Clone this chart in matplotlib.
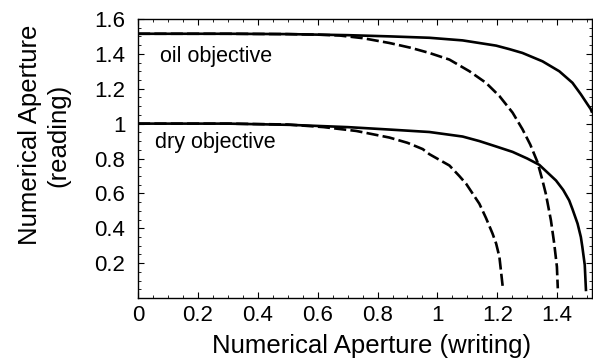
import matplotlib
matplotlib.use("Agg")
import matplotlib.pyplot as plt
from matplotlib.ticker import MultipleLocator, FuncFormatter

plt.rcParams["font.family"] = ["Liberation Sans", "DejaVu Sans"]

# values
oil_solid_x = [0.0, 0.3, 0.5, 0.7, 0.84, 0.973, 1.084, 1.196, 1.24, 1.284, 1.351, 1.407,
               1.451, 1.479, 1.501, 1.512, 1.515]
oil_solid_y = [1.515, 1.515, 1.513, 1.507, 1.50, 1.492, 1.477, 1.447, 1.427, 1.405, 1.357, 1.30,
               1.234, 1.168, 1.111, 1.083, 1.07]

oil_dash_x = [0.0, 0.3, 0.5, 0.6, 0.673, 0.75, 0.84, 0.91, 0.973, 1.04, 1.107, 1.162,
              1.207, 1.251, 1.284, 1.31, 1.334, 1.35, 1.362, 1.379, 1.39, 1.399, 1.402]
oil_dash_y = [1.515, 1.515, 1.513, 1.51, 1.505, 1.49, 1.462, 1.435, 1.405, 1.367, 1.30, 1.234,
              1.158, 1.063, 0.968, 0.88, 0.78, 0.68, 0.598, 0.446, 0.313, 0.18, 0.056]

dry_solid_x = [0.0, 0.3, 0.507, 0.7, 0.84, 0.973, 1.084, 1.14, 1.196, 1.251, 1.3, 1.34,
               1.396, 1.42, 1.44, 1.451, 1.468, 1.479, 1.484, 1.492, 1.496]
dry_solid_y = [1.0, 1.0, 0.993, 0.98, 0.966, 0.952, 0.926, 0.90, 0.869, 0.838, 0.80, 0.764,
               0.674, 0.62, 0.56, 0.51, 0.427, 0.35, 0.293, 0.19, 0.047]

dry_dash_x = [0.0, 0.3, 0.5, 0.62, 0.729, 0.84, 0.9, 0.951, 0.973, 1.04, 1.073, 1.096, 1.14,
              1.162, 1.184, 1.196, 1.207, 1.218]
dry_dash_y = [1.0, 1.0, 0.995, 0.98, 0.958, 0.92, 0.89, 0.854, 0.825, 0.76, 0.70, 0.655, 0.541,
              0.46, 0.37, 0.313, 0.236, 0.066]

fig = plt.figure(figsize=(5.93, 3.64), dpi=100)
ax = fig.add_axes([0.2327, 0.181, 0.765, 0.767])

lw = 1.9
dash = (4.6, 1.6)
ax.plot(oil_solid_x, oil_solid_y, color="black", lw=lw)
ax.plot(oil_dash_x, oil_dash_y, color="black", lw=lw, dashes=dash)
ax.plot(dry_solid_x, dry_solid_y, color="black", lw=lw)
ax.plot(dry_dash_x, dry_dash_y, color="black", lw=lw, dashes=dash)

ax.text(0.073, 1.386, "oil objective", fontsize=15.5, va="center")
ax.text(0.057, 0.89, "dry objective", fontsize=15.5, va="center")

ax.set_xlim(0, 1.515)
ax.set_ylim(0, 1.6)

ax.xaxis.set_major_locator(MultipleLocator(0.2))
ax.xaxis.set_minor_locator(MultipleLocator(0.05))
ax.yaxis.set_major_locator(MultipleLocator(0.2))
ax.yaxis.set_minor_locator(MultipleLocator(0.05))

fmt = FuncFormatter(lambda v, p: "0" if abs(v) < 1e-9 else ("1" if abs(v - 1) < 1e-9 else f"{v:.1f}"))
ax.xaxis.set_major_formatter(fmt)
ax.yaxis.set_major_formatter(fmt)
ax.set_yticks([0.2, 0.4, 0.6, 0.8, 1.0, 1.2, 1.4, 1.6])

ax.tick_params(which="both", direction="in", top=True, right=True, labelsize=16)
ax.tick_params(which="major", length=4, width=0.8)
ax.tick_params(which="minor", length=2, width=0.6)
ax.tick_params(axis="x", pad=5)
ax.tick_params(axis="y", pad=9)

for s in ax.spines.values():
    s.set_linewidth(1.0)

fig.text(372 / 593, 1 - 346 / 364, "Numerical Aperture (writing)", fontsize=18.5,
         ha="center", va="center")
fig.text(44 / 593, 1 - 135 / 364, "Numerical Aperture\n(reading)", fontsize=18.5,
         ha="center", va="center", rotation=90, multialignment="center")

fig.savefig("out.png", dpi=100)
